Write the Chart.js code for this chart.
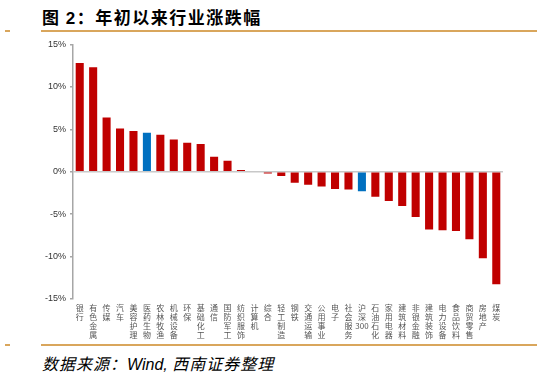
<!DOCTYPE html>
<html>
<head>
<meta charset="utf-8">
<script src="https://cdn.jsdelivr.net/npm/chart.js@4"></script>
<style>
  body { margin: 0; width: 542px; height: 378px; background: #fff; position: relative; overflow: hidden; }
  .title { position: absolute; left: 42px; top: 4px; font: bold 17px "Noto Sans CJK SC", sans-serif; letter-spacing: 1.5px; color: #000; }
  .rule { position: absolute; height: 2px; background: #d9a65c; }
  .note { position: absolute; left: 42px; top: 351px; font: italic 16px "Noto Sans CJK SC", sans-serif; letter-spacing: 1px; color: #000; }
  .note span { font-family: "Liberation Sans", Arial, sans-serif; letter-spacing: 0; }
  #wrap { position: absolute; left: 0; top: 35px; }
</style>
</head>
<body>
<div class="title">图 <span style="font-family:'Liberation Sans',Arial">2</span>：年初以来行业涨跌幅</div>
<div class="rule" style="left:5px;top:30px;width:5px"></div>
<div class="rule" style="left:41px;top:30px;width:496px"></div>
<div id="wrap"><canvas id="c" width="542" height="309"></canvas></div>
<div class="rule" style="left:5px;top:344px;width:5px"></div>
<div class="rule" style="left:41px;top:344px;width:496px"></div>
<div class="note">数据来源：<span>Wind,</span> 西南证券整理</div>
<script>
// industries, sorted by YTD change
const industries = ['银行', '有色金属', '传媒', '汽车', '美容护理', '医药生物', '农林牧渔', '机械设备',
  '环保', '基础化工', '通信', '国防军工', '纺织服饰', '计算机', '综合', '轻工制造', '钢铁',
  '交通运输', '公用事业', '电子', '社会服务', '沪深300', '石油石化', '家用电器', '建筑材料',
  '非银金融', '建筑装饰', '电力设备', '食品饮料', '商贸零售', '房地产', '煤炭'];
const changes = [12.8, 12.3, 6.4, 5.1, 4.8, 4.6, 4.35, 3.8, 3.4, 3.25, 1.75, 1.3, 0.2, 0.08,
  -0.2, -0.5, -1.3, -1.55, -1.75, -2.05, -2.1, -2.3, -2.95, -3.45, -4.05, -5.35, -6.8, -6.9,
  -7.0, -7.95, -10.2, -13.25];
const highlighted = ['医药生物', '沪深300'];
const yTicks = [-15, -10, -5, 0, 5, 10, 15];

// stack characters vertically, keep 300 together
const stacked = industries.map(n => n.match(/\d+|./g));

new Chart(document.getElementById('c').getContext('2d'), {
  type: 'bar',
  data: {
    labels: stacked,
    datasets: [{
      data: changes,
      backgroundColor: industries.map(n => highlighted.includes(n) ? '#0070c0' : '#c00000'),
      barPercentage: 0.6,
      categoryPercentage: 1
    }]
  },
  options: {
    responsive: false,
    devicePixelRatio: 1,
    animation: false,
    layout: { padding: { left: 0, right: 39, top: 8, bottom: 0 } },
    plugins: { legend: { display: false }, tooltip: { enabled: false } },
    scales: {
      x: {
        grid: { display: false, drawTicks: false },
        border: { display: false },
        ticks: {
          autoSkip: false, maxRotation: 0, minRotation: 0, padding: 5,
          color: '#555',
          font: { family: '"Noto Sans CJK SC", sans-serif', size: 8, lineHeight: 1.1 }
        },
        afterFit: s => { s.height = 45; }
      },
      y: {
        min: yTicks[0],
        max: yTicks[yTicks.length - 1],
        afterBuildTicks: s => { s.ticks = yTicks.map(v => ({ value: v })); },
        border: { color: '#a6a6a6', width: 1.5 },
        grid: {
          color: c => c.tick && c.tick.value === 0 ? '#c8c8c8' : 'transparent',
          lineWidth: 1.5,
          tickColor: '#a6a6a6',
          tickLength: 3
        },
        ticks: {
          padding: 4,
          color: '#333',
          font: { family: '"Liberation Sans", Arial, sans-serif', size: 9 },
          callback: v => v + '%'
        },
        afterFit: s => { s.width = 73; }
      }
    }
  }
});
</script>
</body>
</html>
